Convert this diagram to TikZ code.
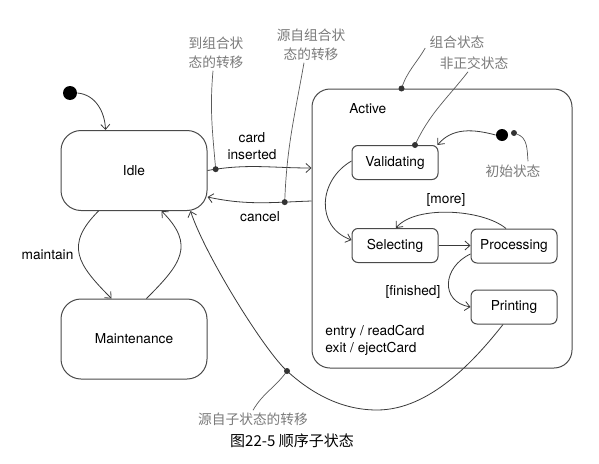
\documentclass[tikz,border=0pt]{standalone}
\usepackage{fontspec}
\setmainfont{TeX Gyre Heros}
\newfontfamily\cjk{Noto Sans CJK SC}
\usetikzlibrary{arrows.meta,calc}
\definecolor{linec}{HTML}{3A3A3A}
\definecolor{boxc}{HTML}{4A4A4A}
\definecolor{notec}{HTML}{7A7A7A}
\definecolor{notel}{HTML}{5A5A5A}
\definecolor{dotc}{HTML}{333333}
\begin{document}
\begin{tikzpicture}[x=1pt,y=1pt,line width=0.8pt,
  arr/.style={draw=linec,-{Straight Barb[length=5pt,width=9pt]}},
  state/.style={draw=boxc,line width=1pt,rounded corners=20pt,minimum width=146pt,minimum height=80pt,font=\fontsize{13.7}{15}\selectfont},
  sub/.style={draw=boxc,line width=1pt,rounded corners=6pt,minimum width=86pt,minimum height=34pt,font=\fontsize{13.7}{15}\selectfont},
  lbl/.style={font=\fontsize{13.7}{17}\selectfont,align=center,inner sep=0pt},
  note/.style={font=\cjk\fontsize{13.7}{19}\selectfont,text=notec,align=center,inner sep=0pt},
  noteline/.style={draw=notel,line width=0.7pt},
  pin/.style={fill=dotc}
]
\useasboundingbox (0,0) rectangle (599,-463);
\fill[white] (0,0) rectangle (599,-463);

% states
\node[state] (idle) at (134,-170.5) {Idle};
\node[state] (maint) at (134,-339) {Maintenance};
\node[draw=boxc,line width=1pt,rounded corners=18pt,minimum width=260pt,minimum height=279pt] (active) at (442,-228.5) {};
\node[lbl,anchor=west] (actlbl) at (349,-109) {Active};
\node[lbl,anchor=west,align=left] (actions) at (325,-340) {entry / readCard\\exit / ejectCard};

\node[sub] (valid) at (395,-162.5) {Validating};
\node[sub] (select) at (395,-245.5) {Selecting};
\node[sub] (proc) at (514,-246) {Processing};
\node[sub] (print) at (514,-307) {Printing};

% initial states
\node[circle,fill=black,minimum size=14pt,inner sep=0pt] (init) at (70,-93) {};
\node[circle,fill=black,minimum size=12pt,inner sep=0pt] (init2) at (502,-135) {};
\node[circle,fill=dotc,minimum size=6pt,inner sep=0pt] (d6) at (514,-133) {};

% transitions outside
\draw[arr] (init.east) to[out=-5,in=92] ($(idle.north west)+(45,0)$);
\draw[arr] ($(idle.east)+(0,0)$) to[out=10,in=180] coordinate[pos=0.07] (c1) ($(active.west)+(0,60.5)$);
\draw[arr] ($(active.west)+(0,27.5)$) to[out=182,in=-12] coordinate[pos=0.24] (c2) ($(idle.east)+(0,-26.5)$);
\draw[arr] ($(idle.south west)+(38,0)$) to[out=225,in=135,looseness=1.4] ($(maint.north west)+(51,0)$);
\draw[arr] ($(maint.north west)+(86,0)$) to[out=45,in=-45,looseness=1.4] ($(idle.south west)+(101,0)$);

\coordinate (bend) at (377,-410);
\coordinate (c4) at (287,-371);
\draw[arr] ($(print.south)+(-11,0)$) .. controls (475,-360) and (430,-410) .. (bend)
  .. controls (340,-410) and (310,-392) .. (c4)
  .. controls (264,-350) and (205,-255) .. ($(idle.south east)+(-17,0)$);

% transitions inside
\draw[arr] (init2.west) to[out=165,in=50] ($(valid.north east)+(-1,0)$);
\draw[arr] ($(valid.west)+(0,1.5)$) to[out=210,in=160,looseness=1.25] ($(select.west)+(0,5.5)$);
\draw[arr] (select.east) -- (select.east -| proc.west);
\draw[arr] ($(proc.north)+(-8,0)$) to[out=140,in=50,looseness=0.7] ($(select.north)+(1,0)$);
\draw[arr] ($(proc.west)+(0,-8)$) to[out=205,in=170,looseness=1.5] (print.west);

% labels
\node[lbl] (lcard) at (252,-146.5) {card\\inserted};
\node[lbl] (lcancel) at (260,-217) {cancel};
\node[lbl] (lmaint) at (47.5,-255) {maintain};
\node[lbl] (lmore) at (446,-200) {[more]};
\node[lbl] (lfin) at (413,-292) {[finished]};

% annotations
\node[note] (n1) at (216,-52.5) {到组合状\\态的转移};
\node[note] (n2) at (311,-44.5) {源自组合状\\态的转移};
\node[note] (n3) at (457,-42) {组合状态};
\node[note] (n4) at (474,-63) {非正交状态};
\node[note] (n5) at (513,-171) {初始状态};
\node[note] (n6) at (253,-419) {源自子状态的转移};
\node[font=\cjk\fontsize{15}{17}\selectfont,inner sep=0pt] (cap) at (292,-441) {图22-5 顺序子状态};

\coordinate (a1) at ($(active.north west)+(90,0)$);
\coordinate (v1) at ($(valid.north)+(20,0)$);

\draw[noteline] ($(n1.south)+(-3,-2)$) to[out=-95,in=95] (c1);
\draw[noteline] ($(n2.south)+(-7,-2)$) to[out=-100,in=88] (c2);
\draw[noteline] ($(n3.west)+(-4,-6)$) to[out=-120,in=72] (a1);
\draw[noteline] ($(n4.south)+(-6,-2)$) to[out=-128,in=65] (v1);
\draw[noteline] (d6) to[out=-20,in=95] ($(n5.north)+(15,3)$);
\draw[noteline] ($(n6.north)+(0,2)$) to[out=60,in=-125] (c4);

\fill[pin] (c1) circle (3pt);
\fill[pin] (c2) circle (3pt);
\fill[pin] (c4) circle (3pt);
\fill[pin] (a1) circle (3pt);
\fill[pin] (v1) circle (3pt);
\end{tikzpicture}
\end{document}
